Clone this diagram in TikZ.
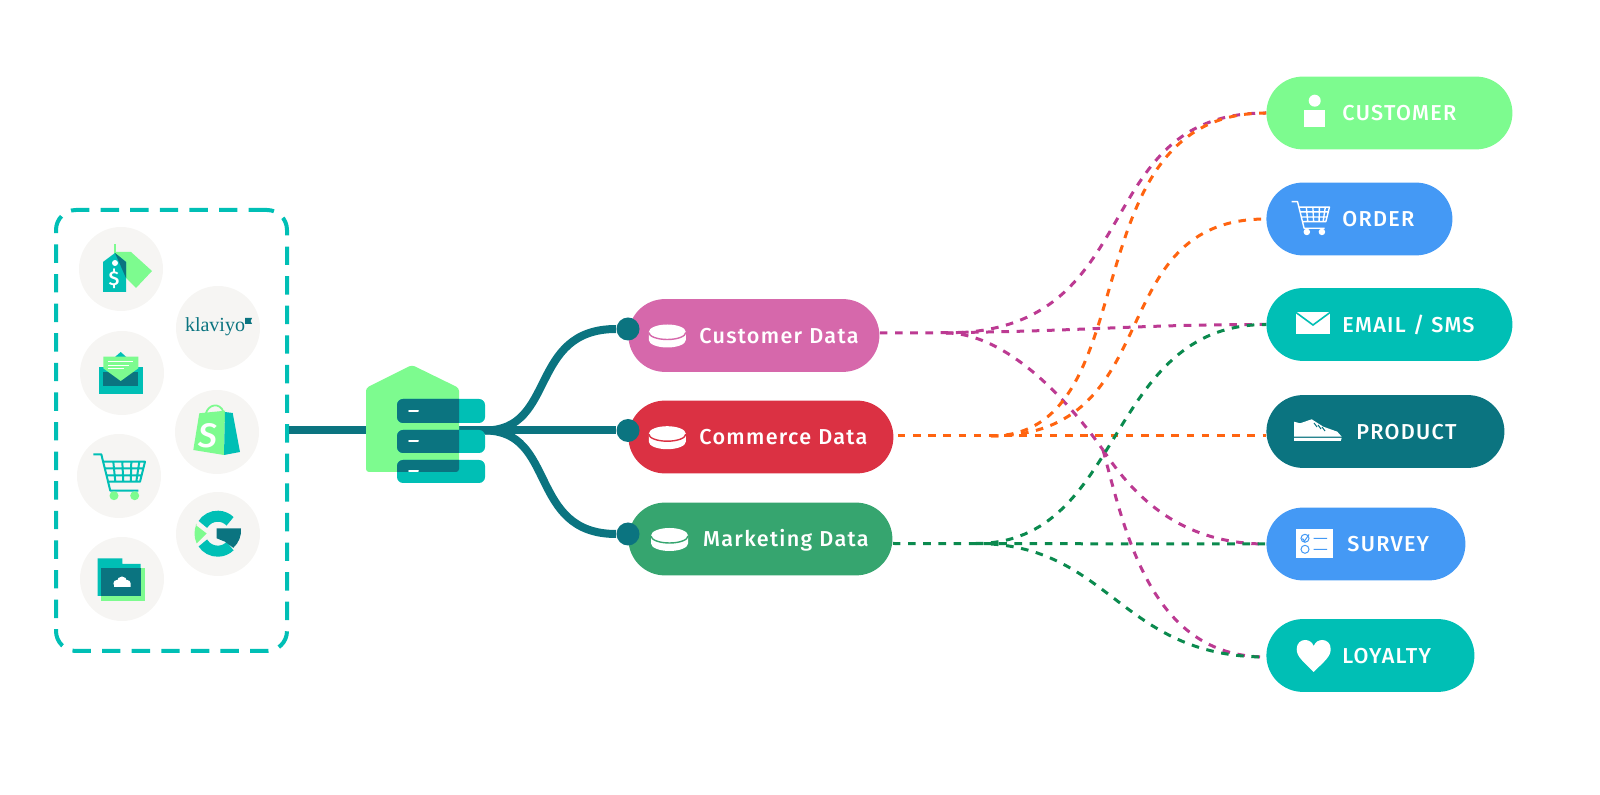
\documentclass[tikz,border=0pt]{standalone}
\usepackage{fontspec}
\usepackage{xcolor}
\usepackage{tikz}
\usetikzlibrary{calc}
\setmainfont{Fira Sans Medium}[LetterSpace=6]
\newfontfamily\logofont{Liberation Serif}
\definecolor{tealmain}{HTML}{00BFB5}
\definecolor{tealdark}{HTML}{0B7480}
\definecolor{mintgreen}{HTML}{7DFB8F}
\definecolor{greycircle}{HTML}{F6F5F3}
\definecolor{skyblue}{HTML}{4499F5}
\definecolor{custpink}{HTML}{D668AB}
\definecolor{commred}{HTML}{DB3143}
\definecolor{markgreen}{HTML}{36A56F}
\definecolor{linkpink}{HTML}{BC3A92}
\definecolor{linkorange}{HTML}{FF6410}
\definecolor{linkgreen}{HTML}{0B8A4E}

\newcommand{\housepath}{(366,-388) -- (412,-365) -- (459,-388) -- (459,-472) -- (366,-472) -- cycle}
\newcommand{\hubrows}[1]{\fill [#1, rounded corners=3pt] (397,-399) rectangle (485,-423)
    (397,-430) rectangle (485,-453) (397,-460) rectangle (485,-483);}
\newcommand{\dbicon}[3]{\fill [white] (#1-18.5,-#2+4) -- (#1-18.5,-#2-4) arc (180:360:18.5 and 7.5) -- (#1+18.5,-#2+4) arc (0:180:18.5 and 7.5) -- cycle;
    \draw [#3, line width=0.7pt] (#1-18.5,-#2+3.5) arc (180:360:18.5 and 7);}
\newcommand{\carticon}[3]{\draw [#1, line width=#3, line join=round] (0,0) -- (8,0) -- (17,-36.4) -- (45,-36.4)
    (10,-7.4) -- (51.7,-7.4) -- (46.7,-27.4) -- (15,-27.4)
    (20,-7.4) -- (22,-27.4) (29,-7.4) -- (30,-27.4) (38,-7.4) -- (37.5,-27.4) (46,-7.4) -- (43,-27.4)
    (12,-14) -- (50,-14) (14,-21) -- (48,-21);
    \fill [#2] (20.7,-41.4) circle (4.5) (41.4,-41.4) circle (4.5);}

\begin{document}
\begin{tikzpicture}[x=0.5pt, y=0.5pt, font=\fontsize{10.8}{12}\selectfont]
\tikzstyle{iconbg} = [circle, fill=greycircle, minimum size=42pt, inner sep=0pt]
\tikzstyle{pill} = [rectangle, rounded corners=18.2pt, minimum height=36.4pt, inner xsep=0pt, inner ysep=0pt,
    text height=8pt, text depth=0pt, align=left, text=white, anchor=west]
\tikzstyle{dot} = [circle, fill=tealdark, minimum size=11.5pt, inner sep=0pt]
\tikzstyle{trunk} = [draw=tealdark, line width=4pt]
\tikzstyle{link} = [line width=1.5pt, dash pattern=on 3.8pt off 3.8pt]

\useasboundingbox (0,0) rectangle (1600,-795);

\node (sources) [rectangle, rounded corners=10pt, draw=tealmain, line width=2pt, dash pattern=on 9.2pt off 5.6pt,
    minimum width=115.5pt, minimum height=220.5pt] at (171.5,-430.5) {};

\node (tagbg) [iconbg] at (121,-269) {};
\node (klaviyobg) [iconbg] at (218,-328) {};
\node (mailbg) [iconbg] at (122,-373) {};
\node (shopifybg) [iconbg] at (217,-432) {};
\node (cartbg) [iconbg] at (119,-476) {};
\node (googlebg) [iconbg] at (218,-534) {};
\node (folderbg) [iconbg] at (122,-579) {};

\draw [mintgreen, line width=0.8pt] (115,-244) -- (115,-254);
\fill [mintgreen] (115,-252) -- (131,-252) -- (152,-271) -- (136,-288) -- (120,-272) -- cycle;
\fill [tealmain] (103,-262) -- (115,-253) -- (126,-262) -- (126,-292) -- (103,-292) -- cycle;
\fill [tealdark] (115,-253) -- (126,-262) -- (126,-278) -- cycle;
\fill [white] (115,-263) circle (3);
\node (dollar) [text=white, inner sep=0pt, font=\fontsize{10}{12}\selectfont] at (114,-279) {\$};

\node (klaviyo) [text=tealdark, inner sep=0pt, font=\logofont\fontsize{10}{12}\selectfont] at (215,-327) {klaviyo};
\fill [tealdark] (245,-318) -- (252,-318) -- (250.5,-321) -- (252,-324) -- (245,-324) -- cycle;

\fill [tealmain] (99.3,-367) -- (142.7,-367) -- (142.7,-394) -- (99.3,-394) -- cycle;
\fill [tealdark] (103.3,-372) rectangle (138.3,-386);
\fill [tealmain] (115,-357) -- (120.7,-352) -- (126.3,-357) -- cycle;
\fill [mintgreen] (103.3,-356.7) -- (138.3,-356.7) -- (138.3,-368.3) -- (120.7,-381) -- (103.3,-368.3) -- cycle;
\draw [white, line width=0.5pt] (108,-362) -- (133,-362) (108,-365.5) -- (129,-365.5) (108,-369) -- (124,-369);

\draw [mintgreen, line width=0.9pt] (205.7,-414) .. controls (208,-404) and (220,-402) .. (223.5,-412);
\fill [mintgreen] (199.3,-413.3) -- (225,-410.7) -- (224,-455) -- (193.3,-450) -- cycle;
\fill [tealmain] (225,-412) -- (232.7,-413) -- (240,-452) -- (224,-455) -- cycle;
\node (shopify) [text=white, inner sep=0pt, font=\fontsize{17}{18}\selectfont\itshape] at (208,-436) {S};

\begin{scope}[shift={(93.3,-454.3)}]
\carticon{tealmain}{mintgreen}{1pt}
\end{scope}

\draw [tealmain, line width=5.5pt] (217.7,-533.7) ++(148:17.5) arc (148:45:17.5);
\draw [tealmain, line width=5.5pt] (217.7,-533.7) ++(212:17.5) arc (212:315:17.5);
\fill [mintgreen] (195.6,-525) -- (206.7,-533.5) -- (196.7,-543.5) arc (205:155:23.5) -- cycle;
\fill [tealdark] (216.7,-528.3) -- (241,-528.3) arc (5:-48:23.5) -- (225,-541.7) -- (216.7,-538.3) -- cycle;

\fill [mintgreen] (101,-568.3) rectangle (145,-601);
\fill [tealmain] (97.7,-558.3) -- (122.3,-558.3) -- (122.3,-564) -- (140.7,-564) -- (140.7,-596) -- (97.7,-596) -- cycle;
\fill [tealdark] (101,-568.3) rectangle (140.7,-596);
\fill [white] (117,-583.5) circle (3.6) (122,-581.5) circle (5) (127,-583.5) circle (3.6) (114,-583) rectangle (130.5,-587);

\coordinate (hubout) at (485,-430.5);

\node (customerdata) [pill, fill=custpink, text width=125.5pt] at (628,-335.5) {\hspace*{35.5pt}Customer Data};
\node (commercedata) [pill, fill=commred, text width=132.5pt] at (628,-437) {\hspace*{35.5pt}Commerce Data};
\node (marketingdata) [pill, fill=markgreen, text width=132pt] at (628,-539) {\hspace*{37.4pt}Marketing Data};
\dbicon{667.3}{336}{custpink}
\dbicon{667.3}{437.7}{commred}
\dbicon{669.5}{539.5}{markgreen}

\node (customerdot) [dot] at (628,-329) {};
\node (commercedot) [dot] at (628,-430.5) {};
\node (marketingdot) [dot] at (628,-534) {};

\draw [trunk] (sources.east) -- (hubout);
\draw [trunk] (hubout) -- (commercedot);
\draw [trunk] (hubout) .. controls +(72,0) and +(-100,0) .. (customerdot);
\draw [trunk] (hubout) .. controls +(72,0) and +(-100,0) .. (marketingdot);

\fill [mintgreen, rounded corners=1.5pt] \housepath;
\hubrows{tealmain}
\begin{scope}
\clip [rounded corners=1.5pt] \housepath;
\hubrows{tealdark}
\end{scope}
\draw [white, line width=1pt, line cap=round] (409,-411) -- (418,-411) (409,-441.5) -- (418,-441.5) (409,-471.5) -- (418,-471.5);

\node (customer) [pill, fill=mintgreen, text width=123pt] at (1266,-113) {\hspace*{38pt}CUSTOMER};
\node (order) [pill, fill=skyblue, text width=93pt] at (1266,-219) {\hspace*{38pt}ORDER};
\node (email) [pill, fill=tealmain, text width=123pt] at (1266,-324.5) {\hspace*{38pt}EMAIL / SMS};
\node (product) [pill, fill=tealdark, text width=119pt] at (1266,-431.5) {\hspace*{45pt}PRODUCT};
\node (survey) [pill, fill=skyblue, text width=99.5pt] at (1266,-544) {\hspace*{40.5pt}SURVEY};
\node (loyalty) [pill, fill=tealmain, text width=104pt] at (1266,-655.5) {\hspace*{38pt}LOYALTY};

\fill [white] (1314.7,-100.7) circle (6);
\fill [white] (1304,-110) rectangle (1325.3,-127.3);

\begin{scope}[shift={(1291.7,-201.7)}, scale=0.73]
\carticon{white}{white}{0.7pt}
\end{scope}

\fill [white] (1296,-311.7) rectangle (1330,-334.3);
\draw [tealmain, line width=0.8pt] (1296,-312.5) -- (1313,-325) -- (1330,-312.5);

\fill [white] (1294,-421.7) -- (1300,-423.3) -- (1311.7,-419.3) -- (1323.3,-426.7) -- (1337.3,-431.7) -- (1341.7,-436.7) -- (1294,-436.7) -- cycle;
\fill [white] (1294,-438) -- (1341.7,-438) -- (1340.7,-441) -- (1294,-441) -- cycle;
\draw [tealdark, line width=0.5pt] (1314,-423) -- (1317,-427) (1318,-425) -- (1321,-429) (1322,-427) -- (1325,-431);

\fill [white] (1296,-529.3) rectangle (1333,-558);
\draw [skyblue, line width=0.5pt] (1305,-538.3) circle (4) (1305,-549.3) circle (4)
    (1313.5,-538.3) -- (1327,-538.3) (1313.5,-549.3) -- (1327,-549.3)
    (1302.5,-538.5) -- (1304.5,-541) -- (1309,-534.5);

\fill [white] (1313.7,-672) .. controls (1303,-661) and (1296.7,-657) .. (1296.7,-649) .. controls (1296.7,-643) and (1301,-640) .. (1305,-640)
    .. controls (1309,-640) and (1312,-642) .. (1313.7,-646) .. controls (1315.4,-642) and (1318.4,-640) .. (1322.4,-640)
    .. controls (1326.4,-640) and (1330.7,-643) .. (1330.7,-649) .. controls (1330.7,-657) and (1324.4,-661) .. (1313.7,-672) -- cycle;

\coordinate (customerout) at ($(customerdata.east)+(0,2.5)$);
\coordinate (customerfork) at ($(customerout)+(66,0)$);
\coordinate (customersplit) at (1103,-450);
\coordinate (commerceout) at ($(commercedata.east)+(4,1)$);
\coordinate (commercefork) at ($(commerceout)+(93,0)$);
\coordinate (marketingout) at ($(marketingdata.east)+(0,-4.5)$);
\coordinate (marketingfork) at ($(marketingout)+(83,0)$);
\coordinate (productin) at ($(product.west)+(0,-4.5)$);
\coordinate (loyaltyin) at ($(loyalty.west)+(0,-1.5)$);

\draw [link, linkpink] (customerout) .. controls +(200,0) and +(-150,0) .. (email.west);
\draw [link, linkpink] (customerfork) .. controls +(205,0) and +(-181,0) .. (customer.west);
\draw [link, linkpink] (customerfork) .. controls +(65,0) and +(-28,40) .. (customersplit);
\draw [link, linkpink] (customersplit) .. controls +(27,-40) and +(-91,0) .. (survey.west);
\draw [link, linkpink] (customersplit) .. controls +(22,-80) and +(-116,0) .. (loyaltyin);

\draw [link, linkorange] (commerceout) -- (productin);
\draw [link, linkorange] (commercefork) .. controls +(160,0) and +(-200,0) .. (customer.west);
\draw [link, linkorange] (commercefork) .. controls +(180,0) and +(-167,0) .. (order.west);

\draw [link, linkgreen] (marketingout) -- (survey.west);
\draw [link, linkgreen] (marketingfork) .. controls +(150,0) and +(-162,0) .. (email.west);
\draw [link, linkgreen] (marketingfork) .. controls +(135,0) and +(-147,0) .. (loyaltyin);

\end{tikzpicture}
\end{document}
